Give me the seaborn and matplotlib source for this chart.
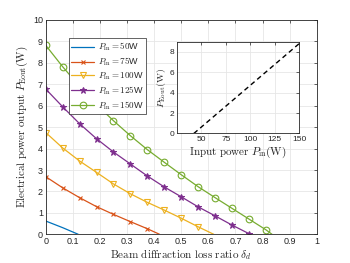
import numpy as np
import pandas as pd
import matplotlib
matplotlib.use("Agg")
import matplotlib.pyplot as plt
import seaborn as sns

sns.set_theme(style="white")
plt.rcParams['font.family'] = ['Liberation Sans', 'DejaVu Sans']
plt.rcParams['mathtext.fontset'] = 'cm'

# ---- data ----
delta = [0, 0.0625, 0.125, 0.1875, 0.25, 0.3125, 0.375, 0.4375, 0.5,
         0.5625, 0.625, 0.6875, 0.75, 0.8125]

p50_x = [0, 0.0625, 0.12]
p50_y = [0.62, 0.31, 0.0]

p75_x = [0, 0.0625, 0.125, 0.1875, 0.25, 0.3125, 0.375, 0.42]
p75_y = [2.69, 2.17, 1.71, 1.29, 0.93, 0.59, 0.26, 0.0]

p100_x = [0, 0.0625, 0.125, 0.1875, 0.25, 0.3125, 0.375, 0.4375, 0.5, 0.5625, 0.62]
p100_y = [4.75, 4.03, 3.42, 2.89, 2.35, 1.89, 1.49, 1.13, 0.75, 0.35, 0.0]

p125_x = [0, 0.0625, 0.125, 0.1875, 0.25, 0.3125, 0.375, 0.4375, 0.5, 0.5625, 0.625, 0.6875, 0.75, 0.755]
p125_y = [6.78, 5.95, 5.16, 4.46, 3.84, 3.28, 2.72, 2.21, 1.75, 1.28, 0.86, 0.43, 0.03, 0.0]

p150_x = [0, 0.0625, 0.125, 0.1875, 0.25, 0.3125, 0.375, 0.4375, 0.5, 0.5625, 0.625, 0.6875, 0.75, 0.8125, 0.835]
p150_y = [8.82, 7.82, 6.90, 6.05, 5.30, 4.60, 3.95, 3.36, 2.78, 2.22, 1.71, 1.21, 0.71, 0.21, 0.0]

inset_pin = [42.4, 150]
inset_pout = [0.0, 8.82]

labels = [r"$P_{\rm in}=50$W", r"$P_{\rm in}=75$W", r"$P_{\rm in}=100$W",
          r"$P_{\rm in}=125$W", r"$P_{\rm in}=150$W"]
colors = ["#0072BD", "#D95319", "#EDB120", "#7E2F8E", "#77AC30"]

fig = plt.figure(figsize=(3.5, 2.63), dpi=100)
ax = fig.add_axes([0.1306, 0.1091, 0.7744, 0.8149])

series = [(p50_x, p50_y, None, {}),
          (p75_x, p75_y, 'x', dict(markersize=3.5, markeredgewidth=0.8)),
          (p100_x, p100_y, 'v', dict(markersize=4.5, markerfacecolor='none', markeredgewidth=0.8)),
          (p125_x, p125_y, '*', dict(markersize=4.8)),
          (p150_x, p150_y, 'o', dict(markersize=4.8, markerfacecolor='none', markeredgewidth=0.8))]

for (xs, ys, mk, kw), lab, c in zip(series, labels, colors):
    df = pd.DataFrame({"x": xs, "y": ys})
    n_mark = sum(1 for v in xs if v in delta)
    if mk is None:
        sns.lineplot(data=df, x="x", y="y", ax=ax, color=c, linewidth=0.9,
                     label=lab, sort=False)
    else:
        sns.lineplot(data=df, x="x", y="y", ax=ax, color=c, linewidth=0.9,
                     marker=mk, markeredgecolor=c, markevery=list(range(n_mark)),
                     label=lab, sort=False, **kw)

ax.set_xlim(0, 1)
ax.set_ylim(0, 10)
ax.set_xticks(np.arange(0, 1.01, 0.1))
ax.set_xticklabels(["0", "0.1", "0.2", "0.3", "0.4", "0.5", "0.6", "0.7", "0.8", "0.9", "1"])
ax.set_yticks(range(0, 11))
ax.grid(True, color="#e6e6e6", linewidth=0.6)
ax.tick_params(direction='in', length=2.5, width=0.5, labelsize=6.5, colors='#262626',
               top=True, right=True, pad=2)
for s in ax.spines.values():
    s.set_color('#262626')
    s.set_linewidth(0.6)
ax.set_xlabel(r"$\mathrm{Beam\ diffraction\ loss\ ratio}\ \delta_d$", fontsize=8, labelpad=1)
ax.set_ylabel(r"$\mathrm{Electrical\ power\ output}\ P_{\rm Eout}(\mathrm{W})$", fontsize=8, labelpad=2)

leg = ax.legend(loc='upper left', bbox_to_anchor=(0.085, 0.915), fontsize=6.5,
                frameon=True, fancybox=False, edgecolor='#262626', framealpha=1,
                handlelength=2.5, borderpad=0.3, labelspacing=0.25, handletextpad=0.4,
                borderaxespad=0)
leg.get_frame().set_linewidth(0.5)

# inset
axi = fig.add_axes([0.505, 0.4924, 0.350, 0.349])
dfi = pd.DataFrame({"pin": inset_pin, "pout": inset_pout})
sns.lineplot(data=dfi, x="pin", y="pout", ax=axi, color='black', linewidth=1.0,
             linestyle=(0, (3.5, 2.5)))
axi.set_xlim(25, 150)
axi.set_ylim(0, 9)
axi.set_xticks([50, 75, 100, 125, 150])
axi.set_yticks([0, 2, 4, 6, 8])
axi.grid(True, color="#e6e6e6", linewidth=0.6)
axi.tick_params(direction='in', length=2, width=0.5, labelsize=6, colors='#262626',
                top=True, right=True, pad=2)
for s in axi.spines.values():
    s.set_color('#262626')
    s.set_linewidth(0.6)
axi.set_xlabel(r"$\mathrm{Input\ power}\ P_{\rm in}(\mathrm{W})$", fontsize=8, labelpad=1)
axi.set_ylabel(r"$P_{\rm Eout}(\mathrm{W})$", fontsize=7, labelpad=1)
axi.set_facecolor('white')

fig.savefig("out.png", dpi=100)
